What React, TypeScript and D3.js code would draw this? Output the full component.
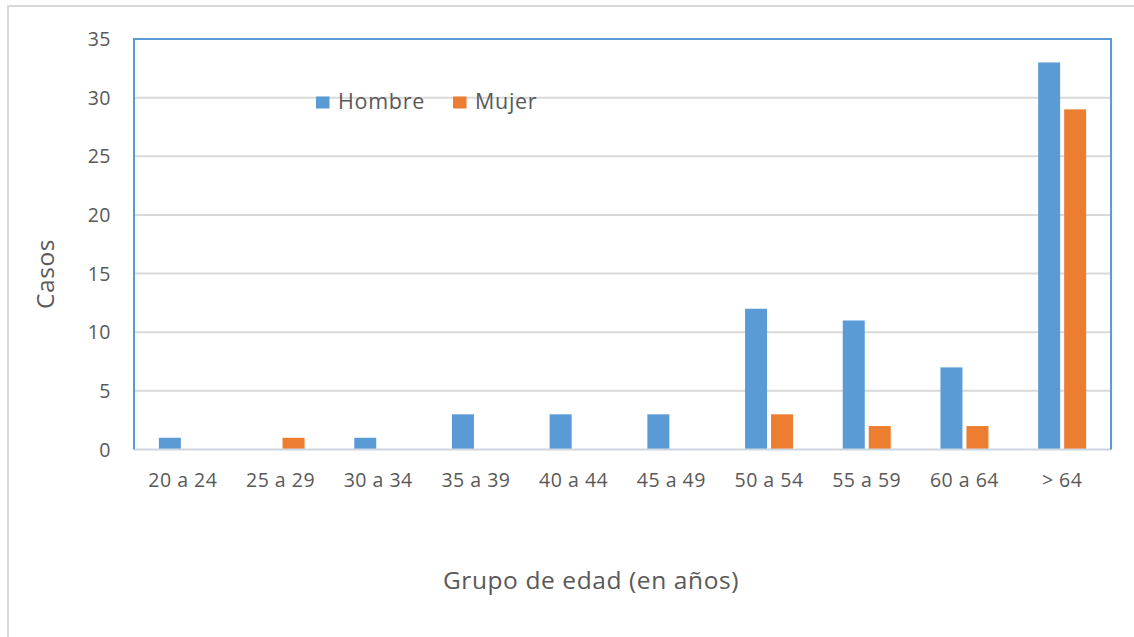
import React from "react";
import * as d3 from "d3";

const categories = ["20 a 24", "25 a 29", "30 a 34", "35 a 39", "40 a 44", "45 a 49", "50 a 54", "55 a 59", "60 a 64", "> 64"];
const hombre = [1, 0, 1, 3, 3, 3, 12, 11, 7, 33];
const mujer = [0, 1, 0, 0, 0, 0, 3, 2, 2, 29];
const seriesNames = ["Hombre", "Mujer"];
const seriesColors = ["#5B9BD5", "#ED7D31"];
const yTicks = [0, 5, 10, 15, 20, 25, 30, 35];

const W = 1134;
const H = 637;
const plot = { left: 134, right: 1111, top: 39, bottom: 449.5 };
const FONT = "'Open Sans', 'Noto Sans', sans-serif";
const TXT = "#595959";

export default function App() {
  const x0 = d3.scaleBand<string>().domain(categories).range([plot.left, plot.right]).paddingInner(0).paddingOuter(0);
  const x1 = d3.scaleBand<string>().domain(seriesNames).range([0, x0.bandwidth()]).paddingInner(0.154).paddingOuter(0.956);
  const y = d3.scaleLinear().domain([0, 35]).range([plot.bottom, plot.top]);
  const data = [hombre, mujer];

  return (
    <svg width={W} height={H} style={{ position: "absolute", left: 0, top: 0, background: "#fff" }} xmlns="http://www.w3.org/2000/svg">
      <rect x={0} y={0} width={W} height={H} fill="#fff" />
      {/* outer chart frame */}
      <rect x={8} y={6} width={W + 20} height={H + 20} fill="none" stroke="#D9D9D9" strokeWidth={2} />
      {/* gridlines */}
      {yTicks.filter((t) => t > 0).map((t) => (
        <line key={t} x1={plot.left} x2={plot.right} y1={y(t)} y2={y(t)} stroke="#D9D9D9" strokeWidth={2} />
      ))}
      {/* bars */}
      {data.map((vals, si) =>
        vals.map((v, i) =>
          v > 0 ? (
            <rect
              key={`${si}-${i}`}
              x={(x0(categories[i]) as number) + (x1(seriesNames[si]) as number)}
              y={y(v)}
              width={x1.bandwidth()}
              height={y(0) - y(v)}
              fill={seriesColors[si]}
            />
          ) : null
        )
      )}
      {/* x axis line */}
      <line x1={plot.left} x2={plot.right} y1={y(0)} y2={y(0)} stroke="#CDD5DF" strokeWidth={2} />
      {/* plot area border */}
      <path
        d={`M${plot.left},${plot.bottom} L${plot.left},${plot.top} L${plot.right},${plot.top} L${plot.right},${plot.bottom}`}
        fill="none"
        stroke="#5B9BD5"
        strokeWidth={2}
      />
      {/* y tick labels */}
      {yTicks.map((t) => (
        <text key={t} x={111} y={y(t)} dy="0.36em" textAnchor="end" fontFamily={FONT} fontSize={19.5} fill={TXT} letterSpacing={0.5}>
          {t}
        </text>
      ))}
      {/* x tick labels */}
      {categories.map((c) => (
        <text key={c} x={(x0(c) as number) + x0.bandwidth() / 2} y={480} dy="0.36em" textAnchor="middle" fontFamily={FONT} fontSize={19.5} fill={TXT} letterSpacing={0.5}>
          {c}
        </text>
      ))}
      {/* axis titles */}
      <text x={591} y={589} textAnchor="middle" fontFamily={FONT} fontSize={24.5} fill={TXT} letterSpacing={0.6}>
        Grupo de edad (en años)
      </text>
      <text transform={`translate(54,274) rotate(-90)`} textAnchor="middle" fontFamily={FONT} fontSize={24.5} fill={TXT} letterSpacing={0.6}>
        Casos
      </text>
      {/* legend */}
      {seriesNames.map((s, i) => {
        const lx = [316, 453][i];
        return (
          <g key={s}>
            <rect x={lx} y={96.5} width={13.5} height={12} fill={seriesColors[i]} />
            <text x={lx + 22} y={109} fontFamily={FONT} fontSize={21.5} fill={TXT} letterSpacing={0.7}>
              {s}
            </text>
          </g>
        );
      })}
    </svg>
  );
}
